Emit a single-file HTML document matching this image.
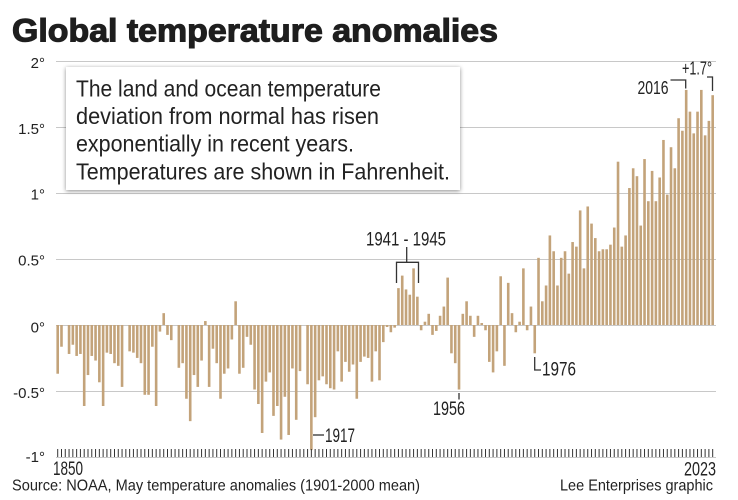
<!DOCTYPE html>
<html><head><meta charset="utf-8">
<style>
html,body{margin:0;padding:0;background:#fff;}
svg{display:block;}
text{font-family:"Liberation Sans",sans-serif;fill:#222;}
</style></head>
<body>
<svg width="738" height="500" viewBox="0 0 738 500" xmlns="http://www.w3.org/2000/svg">
<defs>
<filter id="sh" x="-10%" y="-15%" width="120%" height="130%">
<feDropShadow dx="0" dy="1" stdDeviation="2.2" flood-color="#000" flood-opacity="0.45"/>
</filter>
</defs>
<rect width="738" height="500" fill="#fff"/>

<text x="12" y="41.5" font-size="32" font-weight="bold" textLength="486" lengthAdjust="spacingAndGlyphs" stroke="#1e1e1e" stroke-width="1.1" style="fill:#1e1e1e">Global temperature anomalies</text>

<g stroke="#c8c8c8" stroke-width="1">
<line x1="56" x2="716" y1="61.5" y2="61.5"/>
<line x1="56" x2="716" y1="127.5" y2="127.5"/>
<line x1="56" x2="716" y1="193.5" y2="193.5"/>
<line x1="56" x2="716" y1="259.5" y2="259.5"/>
<line x1="56" x2="716" y1="325.5" y2="325.5"/>
<line x1="56" x2="716" y1="391.5" y2="391.5"/>
<line x1="56" x2="716" y1="457.5" y2="457.5"/>
</g>

<g font-size="15" text-anchor="end">
<text x="45" y="68">2°</text>
<text x="45" y="134">1.5°</text>
<text x="45" y="199.5">1°</text>
<text x="45" y="265.5">0.5°</text>
<text x="45" y="332.5">0°</text>
<text x="45" y="398">-0.5°</text>
<text x="45" y="462">-1°</text>
</g>

<rect x="66" y="67" width="394" height="123" fill="#fff" filter="url(#sh)"/>
<g font-size="23">
<text x="76" y="96.5" textLength="305" lengthAdjust="spacingAndGlyphs">The land and ocean temperature</text>
<text x="76" y="124" textLength="303" lengthAdjust="spacingAndGlyphs">deviation from normal has risen</text>
<text x="76" y="151.7" textLength="278" lengthAdjust="spacingAndGlyphs">exponentially in recent years.</text>
<text x="76" y="179.3" textLength="374" lengthAdjust="spacingAndGlyphs">Temperatures are shown in Fahrenheit.</text>
</g>

<g id="bars" fill="#c3a37a"></g>
<g id="ticks" stroke="#333" stroke-width="1"></g>

<g stroke="#333" stroke-width="1.3" fill="none">
<polyline points="406.7,247 406.7,262.3"/>
<polyline points="396.5,283 396.5,262.3 418.5,262.3 418.5,283"/>
<line x1="459" y1="393" x2="459" y2="399.5"/>
<polyline points="534.7,357 534.7,370 541,370"/>
<line x1="313" y1="435" x2="324" y2="435"/>
<polyline points="670.5,80 685.7,80 685.7,88.5"/>
<polyline points="707,77 712.5,77 712.5,91"/>
</g>

<g font-size="19">
<text x="366" y="245.5" textLength="80" lengthAdjust="spacingAndGlyphs">1941 - 1945</text>
<text x="433" y="415" textLength="32" lengthAdjust="spacingAndGlyphs">1956</text>
<text x="542" y="375.5" textLength="34" lengthAdjust="spacingAndGlyphs">1976</text>
<text x="325" y="442" textLength="30" lengthAdjust="spacingAndGlyphs">1917</text>
<text x="53" y="475" textLength="30" lengthAdjust="spacingAndGlyphs">1850</text>
<text x="684" y="475.5" textLength="32" lengthAdjust="spacingAndGlyphs">2023</text>
</g>
<g font-size="18">
<text x="637.5" y="94" textLength="31" lengthAdjust="spacingAndGlyphs">2016</text>
<text x="682" y="74.5" textLength="30" lengthAdjust="spacingAndGlyphs">+1.7°</text>
</g>

<g font-size="16">
<text x="12" y="490.5" textLength="408" lengthAdjust="spacingAndGlyphs">Source: NOAA, May temperature anomalies (1901-2000 mean)</text>
<text x="560" y="490.5" textLength="153" lengthAdjust="spacingAndGlyphs">Lee Enterprises graphic</text>
</g>
</svg>
<script>
var v=[-0.37,-0.165,0,-0.22,-0.15,-0.235,-0.22,-0.615,-0.38,-0.235,
-0.27,-0.435,-0.615,-0.21,-0.22,-0.29,-0.31,-0.47,0,-0.2,
-0.21,-0.25,-0.29,-0.53,-0.53,-0.165,-0.615,-0.05,0.09,-0.075,
-0.115,0,-0.325,-0.29,-0.56,-0.73,-0.38,-0.47,-0.27,0.03,
-0.47,-0.18,-0.29,-0.56,-0.37,-0.33,-0.11,0.18,-0.37,-0.325,
-0.09,-0.15,-0.49,-0.6,-0.82,-0.43,-0.36,-0.69,-0.615,-0.87,
-0.545,-0.835,-0.33,-0.72,-0.35,0,-0.45,-0.95,-0.70,-0.42,
-0.39,-0.45,-0.48,-0.49,-0.2,-0.43,-0.28,-0.355,-0.3,-0.56,
-0.28,-0.24,-0.25,-0.43,-0.2,-0.42,-0.13,-0.015,-0.055,-0.02,
0.28,0.375,0.27,0.23,0.43,0.215,-0.04,0.025,0.085,-0.075,
-0.045,0.07,0.14,0.36,-0.215,-0.29,-0.49,0.085,0.18,0.07,
-0.09,0.07,0.015,-0.04,-0.28,-0.36,-0.2,0.37,-0.31,0.32,
0.09,-0.055,0.025,0.43,-0.04,0.14,-0.215,0.51,0.18,0.30,
0.68,0.56,0.30,0.51,0.56,0.39,0.63,0.595,0.87,0.43,
0.90,0.77,0.66,0.56,0.575,0.575,0.61,0.74,1.24,0.595,
0.68,1.04,1.19,1.13,0.755,1.26,0.94,1.17,0.94,1.12,
1.405,0.99,1.35,1.19,1.57,1.475,1.785,1.62,1.455,1.62,
1.785,1.44,1.55,1.745];
var ns='http://www.w3.org/2000/svg';
var g=document.getElementById('bars'),t=document.getElementById('ticks');
for(var i=0;i<v.length;i++){
  var cx=57.7+3.786*i;
  var h=Math.abs(v[i])*131.7;
  if(h>0.5){
    var r=document.createElementNS(ns,'rect');
    r.setAttribute('x',(cx-1.3).toFixed(2));
    r.setAttribute('width','2.6');
    r.setAttribute('y',(v[i]>0?325-h:325).toFixed(2));
    r.setAttribute('height',h.toFixed(2));
    g.appendChild(r);
  }
  var l=document.createElementNS(ns,'line');
  l.setAttribute('x1',cx.toFixed(2));l.setAttribute('x2',cx.toFixed(2));
  l.setAttribute('y1','449');l.setAttribute('y2','457');
  t.appendChild(l);
}
</script>
</body></html>
